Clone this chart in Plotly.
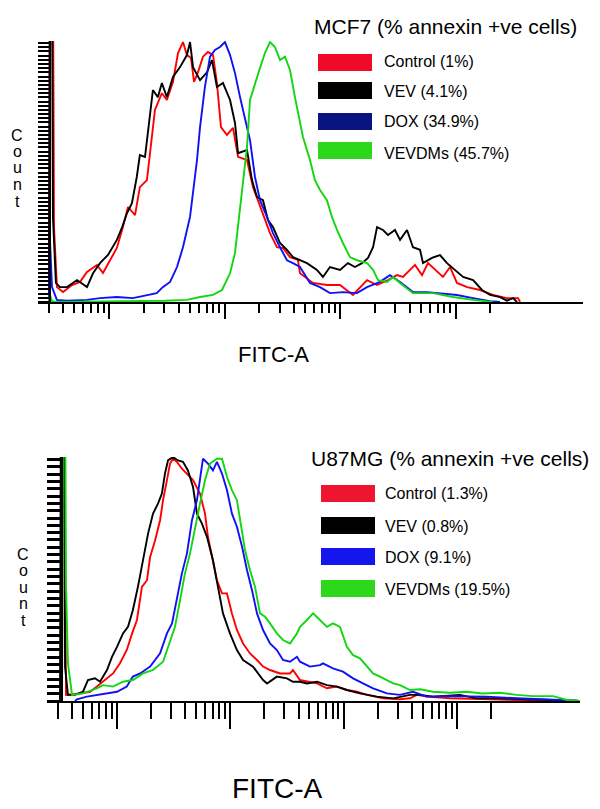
import plotly.graph_objects as go

W, H = 600, 809
FONT = "Liberation Sans, Arial, Helvetica, sans-serif"

# ---------------- data: MCF7 (top panel) ----------------
mcf7_title = "MCF7 (% annexin +ve cells)"
mcf7_labels = ["Control (1%)", "VEV (4.1%)", "DOX (34.9%)", "VEVDMs (45.7%)"]

mcf7_control_x = [30.2, 30.8, 32.7, 33.4, 35.4, 40, 47.9, 56.2, 64.5, 78.8, 88.7, 102, 117, 132, 146, 168, 185, 213,
                  235, 250, 287, 317, 358, 396, 437, 473, 513, 545, 589, 651, 719, 795, 860, 932, 1050, 1185, 1310,
                  1566, 1765, 1949, 2240, 2477, 2845, 3209, 3690, 4322, 4504, 5833, 7710, 9995, 12950, 17140, 20930,
                  26030, 31130, 35120, 44570, 51300, 57800, 69100, 77900, 89700, 103000, 126000, 163000, 211000,
                  279000, 348000, 362000]
mcf7_control_y = [0, 130, 130, 28.7, 5.7, 3.8, 6.5, 7.7, 11.5, 14.2, 11.1, 16, 20.7, 28.7, 36.4, 33.3, 44, 46.7,
                  62, 73.6, 80, 77.4, 84.3, 95.4, 99.6, 94.6, 93.5, 84.3, 88, 94, 95.8, 94.6, 83.9, 67, 64, 66.7, 55.6,
                  54.4, 44, 39, 32, 26.4, 21, 20.7, 17.2, 16.1, 11, 7.3, 6.5, 6.5, 2.7, 8.4, 6.5,
                  8.4, 10.3, 9.6, 14.2, 10.3, 14.9, 11.5, 9.6, 13.4, 7.3, 5.7, 4.6, 2.7,
                  1.5, 1.5, 0]

mcf7_vev_x = [30.2, 30.8, 32.1, 32.7, 34.7, 37.6, 43.3, 52.9, 64.5, 72.7, 83.6, 98, 117, 130, 143, 158, 174, 185,
              205, 226, 240, 265, 287, 317, 358, 412, 473, 503, 534, 614, 705, 779, 860, 970, 1117, 1233, 1310, 1566,
              1730, 1910, 2154, 2377, 2628, 3024, 3475, 3915, 4504, 5176, 6316, 7120, 8189, 9995, 11720, 13470,
              15500, 17480, 19330, 20930, 23560, 26030, 29920, 33100, 38030, 42840, 49300, 52330, 62570, 73400,
              84390, 99000, 116300, 142000, 169600, 199000, 243000, 279000, 315000, 341000]
mcf7_vev_y = [0, 130, 130, 32.6, 7.3, 5.7, 5.7, 8.4, 5.7, 11, 14.9, 18, 23.8, 28.7, 34, 37.9, 47.9, 56.3,
              55.6, 70.9, 81.2, 78.5, 83.9, 78.5, 86.2, 90, 94.6, 99.6, 90, 85, 88, 92.7, 82.4, 83.9, 77.4, 68.6, 57,
              58.2, 46.7, 40.2, 39, 31.4, 28.7, 22.6, 20, 17.2, 16, 14.9, 12.3, 9.6, 13.4, 12.3, 14.9, 13.4,
              14.9, 16.9, 21, 28.7, 27.6, 25.7, 27.6, 23.8, 27.6, 21, 20, 14.9, 16.9, 18,
              14.9, 12.3, 9.6, 8.4, 4.6, 2.7, 1.9, 0.5, 1.5, 0]

mcf7_dox_x = [30.2, 30.8, 32.1, 35.4, 43.3, 64.5, 83.6, 117, 161, 213, 259, 292, 338, 388, 437, 503, 578, 614, 677,
              749, 827, 914, 1010, 1117, 1233, 1363, 1505, 1663, 1836, 2030, 2330, 2628, 3024, 3475, 3915, 4504,
              5497, 6710, 8189, 10600, 14020, 17140, 22200, 27100, 33100, 42840, 56660, 73400, 103000, 142000,
              199000, 243000]
mcf7_dox_y = [0, 23.8, 5.7, 0.8, 0.5, 0.8, 1.5, 1.9, 1.5, 2.7, 3.4, 5.7, 7.7, 13.4, 21, 32.6, 54.4, 67, 82.4,
              94, 96.6, 97.7, 99.6, 94.6, 87.7, 78.5, 69.7, 62, 47.9, 39, 32.6, 26.4, 21, 16, 14.9, 13.4,
              7.3, 5.7, 3.4, 3.8, 3.4, 5.7, 7.7, 10.3, 7.7, 3.8, 3.8, 3.4, 2.7, 1.5,
              0.3, 0]

mcf7_vevdms_x = [30.2, 30.8, 32.1, 35.4, 305, 473, 614, 795, 951, 1117, 1233, 1310, 1418, 1566, 1663, 1836, 2030,
                 2240, 2477, 2734, 3024, 3340, 3690, 4073, 4504, 4780, 5497, 6070, 6710, 7710, 8520, 9420, 10600,
                 12200, 14020, 17140, 19330, 21350, 25520, 28760, 33100, 42840, 63820, 95200, 142000, 187000, 211000]
mcf7_vevdms_y = [0, 3, 0.3, 0, 0.5, 0.8, 1.9, 2.7, 4.6, 11, 18.8, 28.7, 44, 59.4, 77.4, 83.9, 89.7,
                 95.4, 99.6, 97.7, 92.7, 94, 88.9, 78.5, 69.7, 63.2, 54.4, 46.7, 42.9, 39, 32.6, 27.6, 22.6,
                 17.2, 16, 14.9, 12.3, 8.4, 7.7, 9.6, 7.3, 3.4, 3.4, 1.9, 0.8, 0.3, 0]

# ---------------- data: U87MG (bottom panel) ----------------
u87_title = "U87MG (% annexin +ve cells)"
u87_labels = ["Control (1.3%)", "VEV (0.8%)", "DOX (9.1%)", "VEVDMs (19.5%)"]

u87_control_x = [32.7, 33.4, 34.0, 35.5, 47.1, 57.8, 66.5, 81.6, 92.2, 106, 122, 136, 150, 166, 184, 196, 217, 240,
                 255, 276, 294, 312, 338, 374, 423, 469, 540, 598, 635, 703, 762, 845, 935, 1034, 1144, 1296, 1493,
                 1720, 1946, 2241, 2746, 3364, 3572, 4122, 5050, 5820, 7130, 8720, 10690, 13140, 16100, 22230, 31470,
                 38580, 44310, 54300, 86740, 167600, 338000, 541000, 938000]
u87_control_y = [0, 130, 130, 2.5, 3.1, 3.8, 5.9, 9.3, 11.3, 15.4, 20.9, 27.7, 33.2, 46.8, 49.5, 59, 65.9, 74.1,
                 82.3, 90.5, 97.3, 99.3, 98, 95.2, 92.5, 90.5, 85, 76.8, 67.3, 57.7, 49.5, 44.1, 44.1, 35.9, 29.1, 23.6,
                 19.5, 16.8, 14.1, 12.7, 11.3, 11.3, 12.7, 8.6, 7.9, 7.2, 5.2, 5.9, 4.5, 3.8, 2.5, 1.1, 0.7,
                 1.1, 2.5, 1.8, 1.1, 0.7, 0.4, 0.4, 0.1]

u87_vev_x = [31.4, 32.0, 34.0, 34.8, 36.9, 42.6, 50.1, 55.4, 63.9, 70.8, 81.6, 90.3, 100, 113, 125, 138, 153, 170,
             188, 208, 230, 249, 265, 282, 312, 345, 382, 423, 469, 508, 562, 622, 703, 778, 862, 993, 1144, 1296,
             1587, 1946, 2110, 2576, 3162, 3572, 4122, 4745, 5820, 7130, 8720, 10690, 13950, 19720, 27340, 38580,
             47250, 61620, 106400, 148600, 240000, 408000, 812000, 1157000]
u87_vev_y = [0, 130, 130, 14, 2.5, 2.5, 3.8, 8.6, 9.3, 7.9, 12.7, 18.1, 22.2, 27.7, 30.4, 37.2, 46.8, 57.7,
             68.6, 76.8, 80.9, 85, 93.2, 98.6, 100, 98.6, 98, 94.5, 87.7, 76.8, 72.7, 67.3, 57.7, 46.8, 35.9, 27.7,
             20.9, 16.8, 14.1, 8.6, 7.2, 10, 9.3, 7.9, 7.9, 7.2, 7.9, 6.5, 5.9, 4.5, 3.1, 1.8, 1.1, 2.5,
             2.5, 1.8, 2.5, 1.1, 1.1, 0.7, 0.4, 0.1]

u87_dox_x = [42.6, 44.3, 54.3, 66.5, 81.6, 100, 122, 138, 160, 196, 240, 276, 306, 338, 374, 414, 459, 508, 540,
             574, 635, 703, 762, 845, 935, 1034, 1144, 1270, 1405, 1555, 1720, 1946, 2241, 2576, 2918, 3364, 3878,
             4122, 5050, 6188, 6580, 8050, 9870, 12120, 14830, 18200, 24120, 31470, 40970, 54300, 86740, 182300,
             338000, 575000, 1157000]
u87_dox_y = [0, 0.7, 1.8, 2.5, 3.1, 3.8, 5.9, 10, 11.3, 14.1, 19.5, 27.7, 31.8, 41.3, 52.3, 60.4, 74.1, 82.3, 90.5,
             99.3, 97.3, 94.5, 98, 93.2, 86.4, 76.8, 71.4, 63.2, 53.6, 45.4, 35.9, 29.1, 23.6, 20.9, 16.8, 16.1, 18.1,
             16.1, 14.1, 14.7, 15.4, 13.4, 12, 9.3, 7.2, 5.2, 3.1, 2.5, 3.8, 1.8, 2, 1.8,
             1.1, 0.7, 0.1]

u87_vevdms_x = [32.7, 33.4, 34.8, 35.5, 36.9, 40.1, 50.1, 66.5, 75.2, 92.2, 113, 138, 170, 208, 255, 294, 325, 360,
                398, 441, 488, 540, 598, 662, 762, 845, 935, 1034, 1144, 1219, 1349, 1493, 1652, 1829, 2027, 2241,
                2576, 2918, 3364, 3878, 4122, 4745, 5370, 6188, 7130, 8050, 9290, 10690, 12120, 13950, 16100, 18200,
                20940, 24120, 27340, 31470, 38580, 47250, 61620, 86740, 121500, 167600, 240000, 338000, 467000,
                705000, 938000, 1240000]
u87_vevdms_y = [0, 130, 130, 46.8, 15.4, 2.5, 3.1, 5.2, 6.5, 5.9, 7.9, 8.6, 11.3, 12.7, 16.1, 25, 30.4, 41.3,
                52.3, 60.4, 71.4, 80.9, 90.5, 97.3, 99.3, 99.3, 91.8, 86.4, 82.3, 74.1, 61.8, 53.6, 46.8, 35.9, 34.5,
                31.8, 27.7, 25, 23.6, 27.7, 30.4, 33.2, 35.9, 33.2, 30.4, 31.8, 30.4, 22.2, 18.8, 17.5, 14.1, 11.3,
                10, 8.6, 7.2, 6.5, 4.5, 4.8, 3.8, 3.4, 3.8, 3.1, 3.4, 2.5, 2,
                2, 0.4, 0]

# axis tick positions (FITC-A, log scale; no labels shown)
x_major_ticks = [100, 1000, 10000, 100000]
x_minor_ticks = [30, 40, 50, 60, 70, 80, 90,
                 200, 300, 400, 500, 600, 700, 800, 900,
                 2000, 3000, 4000, 5000, 6000, 7000, 8000, 9000,
                 20000, 30000, 40000, 50000, 60000, 70000, 80000, 90000,
                 200000]
axis_title = "FITC-A"
count_label = "Count"

line_colors = ["#FF0000", "#000000", "#1010F5", "#12D612"]
mcf7_box_colors = ["#F00A2A", "#000000", "#0A1480", "#2DD719"]
u87_box_colors = ["#EE1530", "#000000", "#1515EE", "#2DD719"]


def px(x, y):
    return x / W, 1 - y / H


fig = go.Figure()

mcf7_series = [(mcf7_control_x, mcf7_control_y), (mcf7_vev_x, mcf7_vev_y),
               (mcf7_dox_x, mcf7_dox_y), (mcf7_vevdms_x, mcf7_vevdms_y)]
u87_series = [(u87_control_x, u87_control_y), (u87_vev_x, u87_vev_y),
              (u87_dox_x, u87_dox_y), (u87_vevdms_x, u87_vevdms_y)]

for (xs, ys), col, name in zip(mcf7_series, line_colors, mcf7_labels):
    fig.add_trace(go.Scatter(x=xs, y=ys, mode="lines", name=name, xaxis="x", yaxis="y",
                             line=dict(color=col, width=1.9), showlegend=False, hoverinfo="skip"))
for (xs, ys), col, name in zip(u87_series, line_colors, u87_labels):
    fig.add_trace(go.Scatter(x=xs, y=ys, mode="lines", name=name, xaxis="x2", yaxis="y2",
                             line=dict(color=col, width=1.9), showlegend=False, hoverinfo="skip"))


def xaxis_cfg(left, right, rng, anchor, major_len, minor_len):
    return dict(type="log", range=rng, domain=[left / W, right / W], anchor=anchor,
                showline=True, linecolor="black", linewidth=2, mirror=False,
                ticks="outside", tickmode="array", tickvals=x_major_ticks, ticklen=major_len,
                tickwidth=2, tickcolor="black", showticklabels=False, showgrid=False, zeroline=False,
                minor=dict(tickmode="array", tickvals=x_minor_ticks, ticks="outside", ticklen=minor_len,
                           tickwidth=2, tickcolor="black", showgrid=False))


def yaxis_cfg(top, bottom, pos, dtick, tlen, twidth):
    return dict(domain=[1 - bottom / H, 1 - top / H], range=[0, 100], anchor="free", position=pos / W,
                showline=True, linecolor="black", linewidth=1.5,
                ticks="outside", tickmode="linear", tick0=0, dtick=dtick, ticklen=tlen, tickwidth=twidth,
                tickcolor="black", showticklabels=False, showgrid=False, zeroline=False)


fig.update_layout(
    width=W, height=H,
    margin=dict(l=0, r=0, t=0, b=0),
    paper_bgcolor="white", plot_bgcolor="white",
    showlegend=False,
    xaxis=xaxis_cfg(38, 583, [1.3853, 6.1039], "y", 15, 9),
    yaxis=yaxis_cfg(41, 302, 50, 1.6, 11, 2),
    xaxis2=xaxis_cfg(48, 580, [1.391, 6.0865], "y2", 26, 16),
    yaxis2=yaxis_cfg(457, 701, 62, 3, 14, 3),
)

annotations = []
shapes = []


def text(x, y, s, size, anchor="center"):
    ax, ay = px(x, y)
    annotations.append(dict(x=ax, y=ay, xref="paper", yref="paper", text=s, showarrow=False,
                            xanchor=anchor, yanchor="middle",
                            font=dict(family=FONT, size=size, color="black")))


# titles
text(445, 27, mcf7_title, 21)
text(450, 458, u87_title, 21)

# legends
mcf7_box_top = [54, 82, 113, 142]
mcf7_text_y = [62, 91, 121, 153]
for lbl, col, bt, ty in zip(mcf7_labels, mcf7_box_colors, mcf7_box_top, mcf7_text_y):
    x0, y0 = px(318, bt)
    x1, y1 = px(372, bt + 17)
    shapes.append(dict(type="rect", xref="paper", yref="paper", x0=x0, y0=y1, x1=x1, y1=y0,
                       fillcolor=col, line=dict(width=0)))
    text(382, ty, lbl, 16, "left")

u87_box_top = [485, 517, 548, 580]
u87_text_y = [493, 526, 557, 589]
for lbl, col, bt, ty in zip(u87_labels, u87_box_colors, u87_box_top, u87_text_y):
    x0, y0 = px(321, bt)
    x1, y1 = px(375, bt + 17)
    shapes.append(dict(type="rect", xref="paper", yref="paper", x0=x0, y0=y1, x1=x1, y1=y0,
                       fillcolor=col, line=dict(width=0)))
    text(383, ty, lbl, 16, "left")

# vertical "Count" labels
for ch, yy in zip(count_label, [135, 151.5, 168, 184.5, 201]):
    text(17, yy, ch, 16)
for ch, yy in zip(count_label, [554, 570.5, 587, 603.5, 620]):
    text(23, yy, ch, 16)

# x axis titles
text(273, 354, axis_title, 22)
text(277, 788, axis_title, 28)

fig.update_layout(annotations=annotations, shapes=shapes)
fig.write_html("out.html", config={"displayModeBar": False},
               post_script="document.body.style.margin='0';document.body.style.overflow='hidden';")
